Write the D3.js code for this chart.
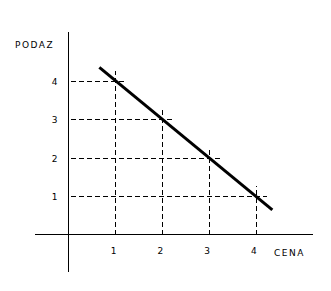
<!DOCTYPE html>
<html>
<head>
<meta charset="utf-8">
<script src="https://cdnjs.cloudflare.com/ajax/libs/d3/7.8.5/d3.min.js"></script>
<style>
  html, body { margin: 0; padding: 0; background: #fff; }
  svg { display: block; }
  text { font-family: "DejaVu Sans", Verdana, sans-serif; font-size: 9px; letter-spacing: 1.5px; fill: #000; }
  .axis-line { stroke: #000; stroke-width: 1; shape-rendering: crispEdges; }
  .guide { stroke: #000; stroke-width: 1; stroke-dasharray: 5,3; shape-rendering: crispEdges; fill: none; }
  .supply { stroke: #000; stroke-width: 3; fill: none; }
</style>
</head>
<body>
<div id="chart"></div>
<script>
// price (CENA) and quantity (PODAZ) pairs
var prices = [1, 2, 3, 4];
var quantities = [4, 3, 2, 1];
var xTicks = ['1', '2', '3', '4'];
var yTicks = ['1', '2', '3', '4'];
// ends of the drawn line, in data units
var lineX = [0.66, 4.36];
var lineY = [4.34, 0.64];
var xTitle = 'CENA';
var yTitle = 'PODAZ';

var width = 331;
var height = 291;

var svg = d3.select('#chart').append('svg')
  .attr('width', width)
  .attr('height', height);

var x = d3.scaleLinear().domain([0, 4]).range([68.5, 255.5]);
var y = d3.scaleLinear().domain([0, 4]).range([234.5, 80.5]);

// dashed guides: from axis to a bit past the point
var over = 0.25;
prices.forEach(function (p, i) {
  var q = quantities[i];
  svg.append('line')
    .attr('class', 'guide')
    .attr('x1', x(0) + 2).attr('x2', x(p + over))
    .attr('y1', Math.round(y(q)) + 0.5).attr('y2', Math.round(y(q)) + 0.5);
  svg.append('line')
    .attr('class', 'guide')
    .attr('x1', Math.round(x(p)) + 0.5).attr('x2', Math.round(x(p)) + 0.5)
    .attr('y1', y(0)).attr('y2', y(q + over));
});

// axes
svg.append('line')
  .attr('class', 'axis-line')
  .attr('x1', 35).attr('x2', 313)
  .attr('y1', y(0)).attr('y2', y(0));
svg.append('line')
  .attr('class', 'axis-line')
  .attr('x1', x(0)).attr('x2', x(0))
  .attr('y1', 32).attr('y2', 272);

// supply line
var line = d3.line()
  .x(function (d) { return x(d[0]); })
  .y(function (d) { return y(d[1]); });

svg.append('path')
  .attr('class', 'supply')
  .attr('d', line(d3.zip(lineX, lineY)));

// tick labels
svg.selectAll('.xlab')
  .data(xTicks)
  .enter()
  .append('text')
  .attr('class', 'xlab')
  .attr('x', function (d, i) { return x(prices[i]) - 1; })
  .attr('y', 254)
  .attr('text-anchor', 'middle')
  .text(function (d) { return d; });

svg.selectAll('.ylab')
  .data(yTicks)
  .enter()
  .append('text')
  .attr('class', 'ylab')
  .attr('x', 59)
  .attr('y', function (d, i) { return y(i + 1) + 4; })
  .attr('text-anchor', 'end')
  .text(function (d) { return d; });

svg.append('text')
  .attr('x', 274)
  .attr('y', 256)
  .text(xTitle);

svg.append('text')
  .attr('x', 15)
  .attr('y', 48)
  .text(yTitle);
</script>
</body>
</html>
